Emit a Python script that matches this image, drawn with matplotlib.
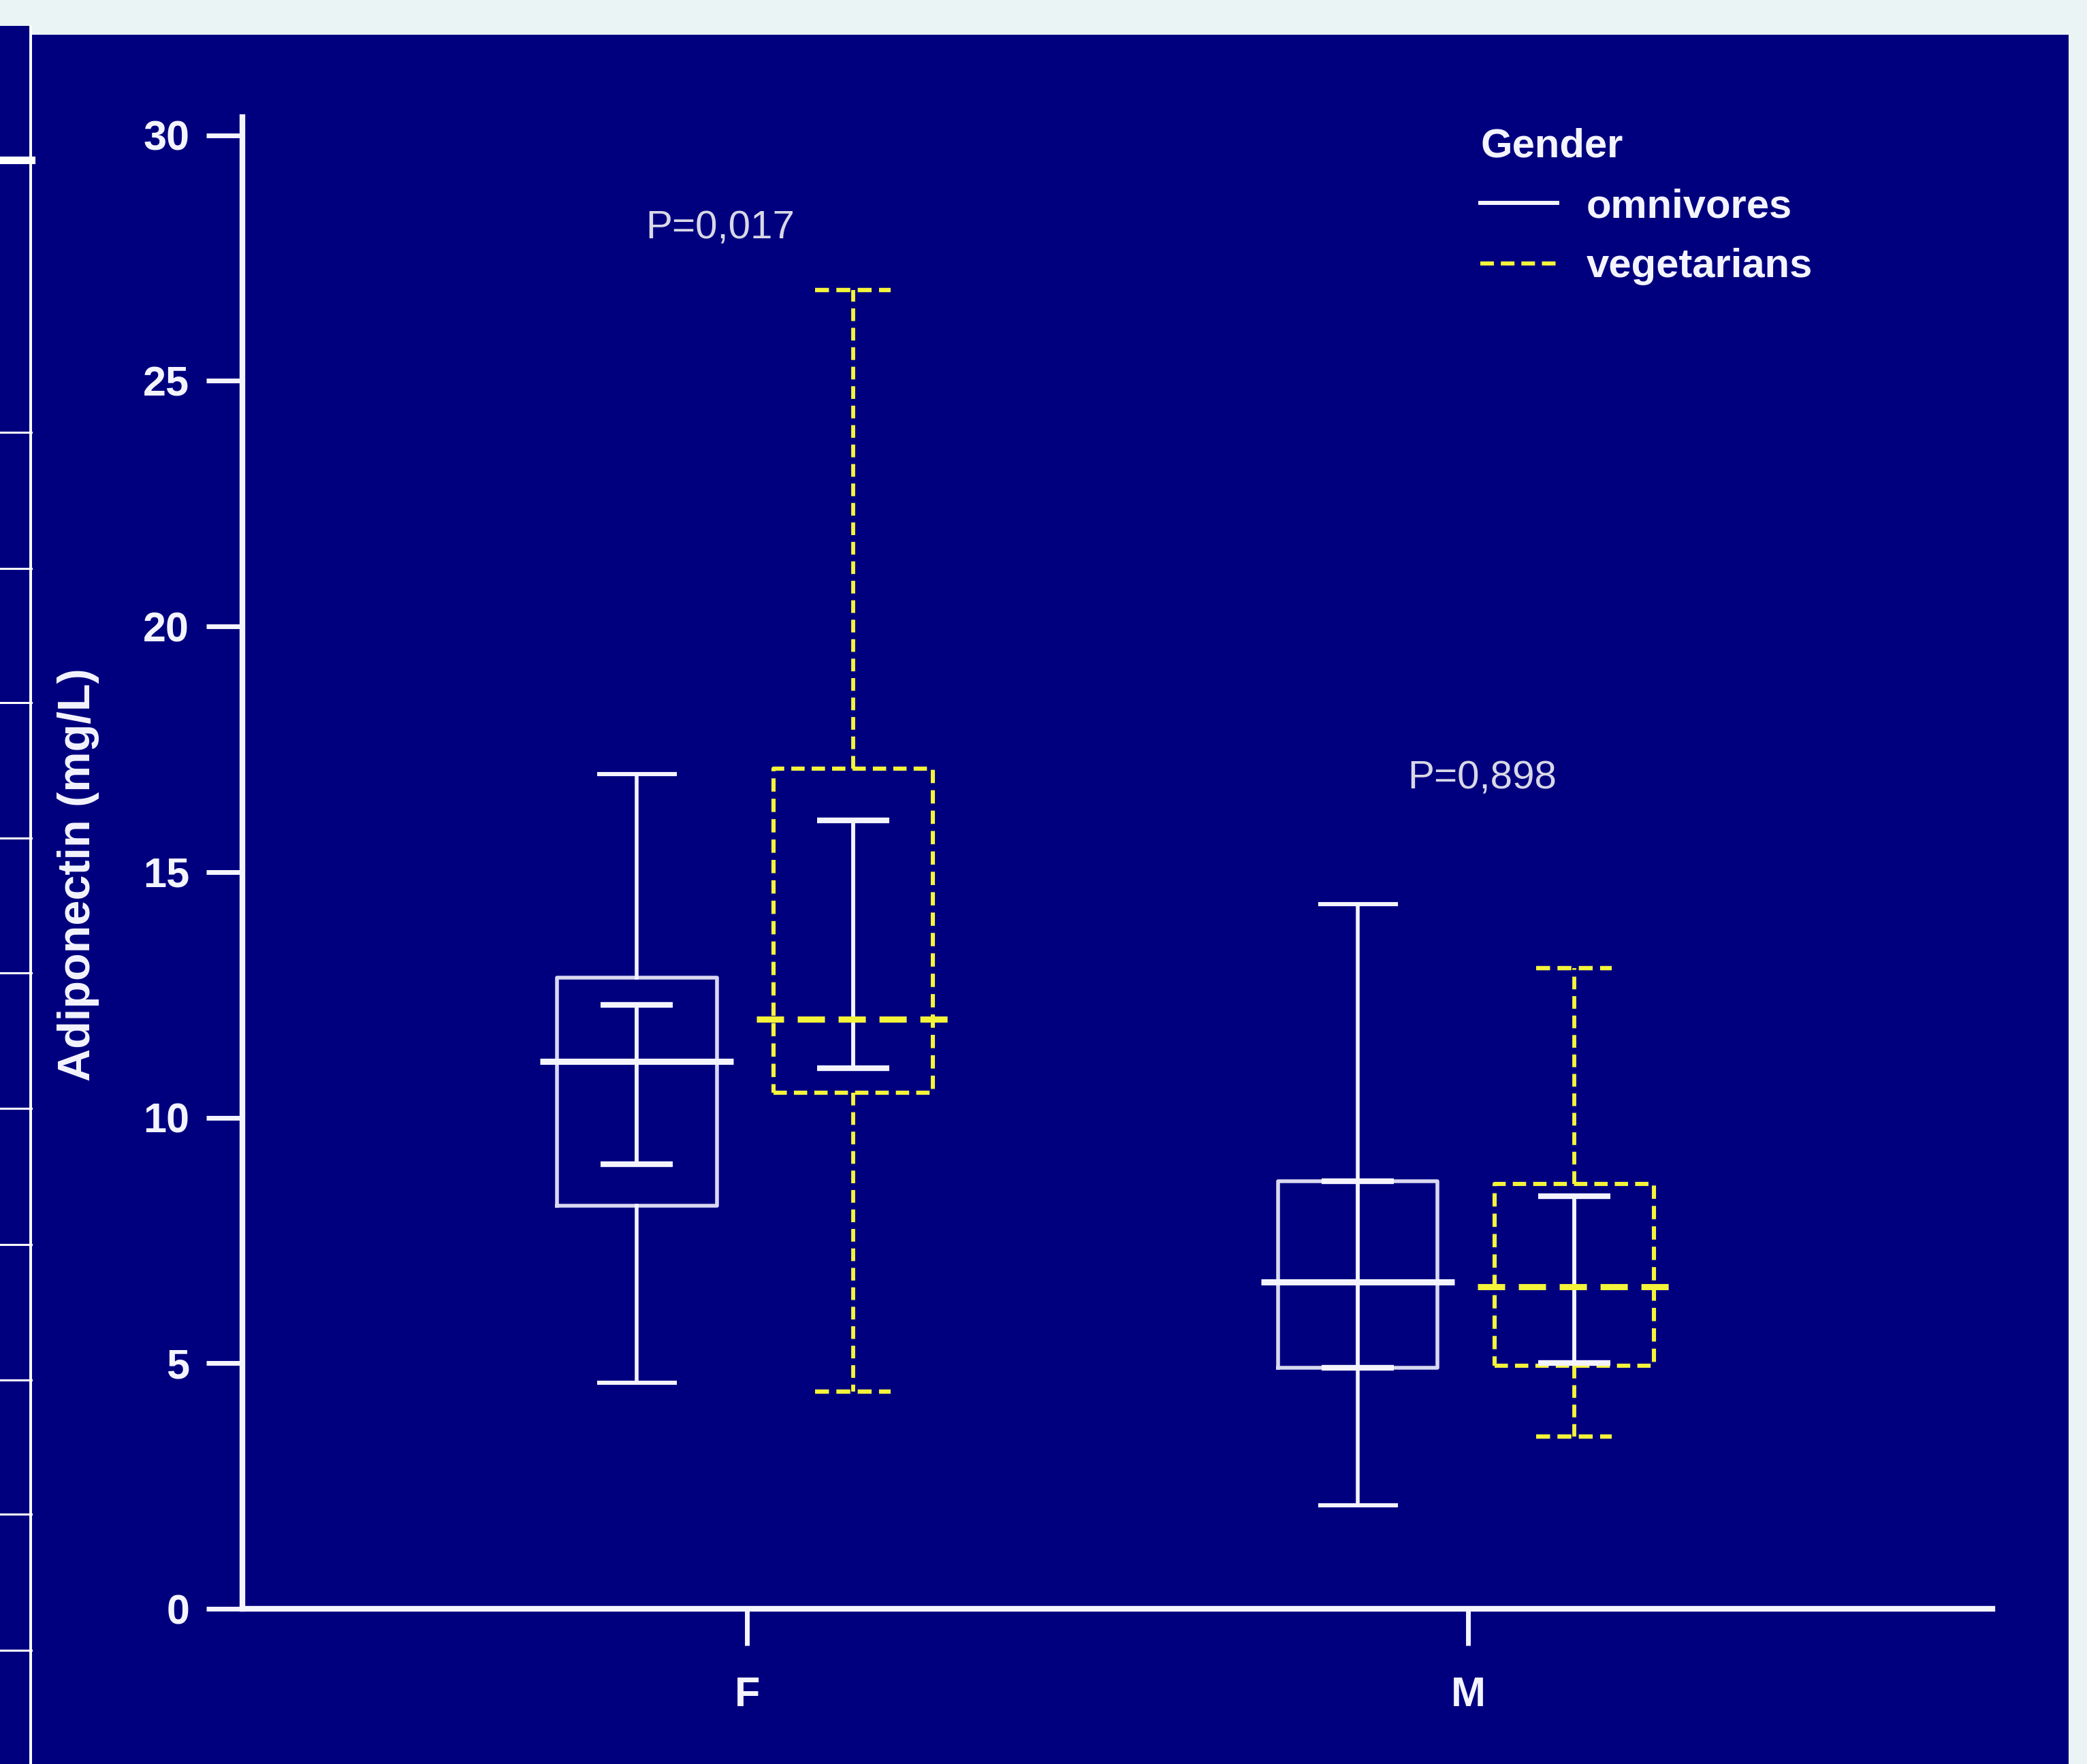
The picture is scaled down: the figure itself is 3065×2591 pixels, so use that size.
import matplotlib
matplotlib.use("Agg")
import matplotlib.pyplot as plt
from matplotlib.lines import Line2D
from matplotlib.patches import Rectangle

# ---------------- data ----------------
groups = ["F", "M"]
group_pos = [1, 2]

# omnivores (solid white)
omni_whislo = [4.6, 2.1]
omni_q1 = [8.2, 4.9]
omni_med = [11.15, 6.65]
omni_q3 = [12.85, 8.7]
omni_whishi = [17.0, 14.35]
omni_inner_lo = [9.05, 4.9]
omni_inner_hi = [12.3, 8.7]

# vegetarians (dashed yellow)
veg_whislo = [4.42, 3.5]
veg_q1 = [10.5, 4.95]
veg_med = [12.0, 6.55]
veg_q3 = [17.1, 8.65]
veg_whishi = [26.85, 13.05]
veg_inner_lo = [11.0, 5.0]
veg_inner_hi = [16.05, 8.4]

p_labels = ["P=0,017", "P=0,898"]
p_x = [0.963, 2.019]
p_y = [28.1, 16.9]

yticks = [0, 5, 10, 15, 20, 25, 30]
ylabel = "Adiponectin (mg/L)"
legend_title = "Gender"
legend_labels = ["omnivores", "vegetarians"]

# ---------------- style ----------------
W, H = 3065, 2591
DPI = 100
NAVY = "#00007f"
LIGHT = "#eaf4f5"
WHITE = "#f4f4ff"
BOXWHITE = "#d8d8f0"
YELLOW = "#f4f43a"
PTXT = "#d8d8e6"
FONT = "Liberation Sans"

plt.rcParams["font.family"] = [FONT, "DejaVu Sans"]

fig = plt.figure(figsize=(W / DPI, H / DPI), dpi=DPI, facecolor=LIGHT)

# navy panels behind the chart
fig.patches.append(Rectangle((0, 0), 43 / W, (H - 38) / H, transform=fig.transFigure,
                             facecolor=NAVY, edgecolor="none", zorder=0))
fig.patches.append(Rectangle((46 / W, 0), (3038 - 46) / W, (H - 51) / H, transform=fig.transFigure,
                             facecolor=NAVY, edgecolor="none", zorder=0))
fig.lines.append(Line2D([44.5 / W, 44.5 / W], [0, (H - 38) / H], transform=fig.transFigure,
                        color="white", lw=2.2, zorder=1))
for yy in [235, 635, 835, 1032, 1231, 1429, 1628, 1828, 2027, 2224, 2424]:
    fig.lines.append(Line2D([0, 46 / W], [1 - yy / H, 1 - yy / H], transform=fig.transFigure,
                            color="white", lw=(8 if yy == 235 else 2.2), zorder=1))

left, right = 356 / W, 2926 / W
bottom, top = 1 - 2363 / H, 1 - 172 / H
ax = fig.add_axes([left, bottom, right - left, top - bottom])
ax.set_zorder(5)
ax.set_facecolor("none")
ax.set_xlim(0.300, 2.727)
ax.set_ylim(0, 30.37)

off_o, off_v = -0.153, 0.147
box_w = 0.2215
cap_w = 0.105
med_half = 0.134

pos_o = [p + off_o for p in group_pos]
pos_v = [p + off_v for p in group_pos]

stats_o = [dict(whislo=a, q1=b, med=c, q3=d, whishi=e, fliers=[])
           for a, b, c, d, e in zip(omni_whislo, omni_q1, omni_med, omni_q3, omni_whishi)]
stats_v = [dict(whislo=a, q1=b, med=c, q3=d, whishi=e, fliers=[])
           for a, b, c, d, e in zip(veg_whislo, veg_q1, veg_med, veg_q3, veg_whishi)]

ax.bxp(stats_o, positions=pos_o, widths=box_w, capwidths=cap_w, showfliers=False,
       boxprops=dict(color=BOXWHITE, lw=4.0),
       whiskerprops=dict(color=WHITE, lw=4.0),
       capprops=dict(color=WHITE, lw=4.4),
       medianprops=dict(lw=0))
dash = (0, (3.2, 1.7))
ax.bxp(stats_v, positions=pos_v, widths=box_w, capwidths=cap_w, showfliers=False,
       boxprops=dict(color=YELLOW, lw=4.4, linestyle=dash),
       whiskerprops=dict(color=YELLOW, lw=4.2, linestyle=dash),
       capprops=dict(color=YELLOW, lw=4.6, linestyle=dash),
       medianprops=dict(lw=0))

# inner white error bars
for pos, lo, hi in [(pos_o, omni_inner_lo, omni_inner_hi), (pos_v, veg_inner_lo, veg_inner_hi)]:
    for x, a, b in zip(pos, lo, hi):
        ax.errorbar([x], [(a + b) / 2], yerr=[[(a + b) / 2 - a], [b - (a + b) / 2]],
                    fmt="none", ecolor=WHITE, elinewidth=4.2, capsize=38, capthick=6.0, zorder=3)

# medians
ax.hlines(omni_med, [p - med_half for p in pos_o], [p + med_half for p in pos_o],
          colors=WHITE, lw=6.5, zorder=4)
ax.hlines(veg_med, [p - med_half for p in pos_v], [p + med_half for p in pos_v],
          colors=YELLOW, lw=6.5, linestyles=[(0, (4.43, 2.22))], zorder=4)

# p-values
for x, y, t in zip(p_x, p_y, p_labels):
    ax.text(x, y, t, ha="center", va="center", color=PTXT, fontsize=42, fontfamily=FONT)

# axes styling
for s in ["top", "right"]:
    ax.spines[s].set_visible(False)
for s in ["left", "bottom"]:
    ax.spines[s].set_color(WHITE)
    ax.spines[s].set_linewidth(6.0)
ax.set_yticks(yticks)
ax.set_xticks(group_pos, groups)
ax.tick_params(axis="y", length=38, width=5.0, color=WHITE, pad=18,
               labelcolor=WHITE, labelsize=44)
ax.tick_params(axis="x", length=39, width=5.0, color=WHITE, pad=32,
               labelcolor=WHITE, labelsize=44)
for lab in ax.get_xticklabels() + ax.get_yticklabels():
    lab.set_fontweight("bold")

ax.set_ylabel(ylabel, color=WHITE, fontsize=48, fontweight="bold", va="center")
ax.yaxis.set_label_coords(-0.0937, 0.492)

# legend
handles = [Line2D([], [], color=WHITE, lw=4.3),
           Line2D([], [], color=YELLOW, lw=4.3, linestyle=(0, (3.35, 1.7)))]
leg = ax.legend(handles, legend_labels, title=legend_title, loc="upper left",
                bbox_to_anchor=(0.7074, 0.9929), frameon=False, borderpad=0,
                handlelength=1.9, handletextpad=0.7, labelspacing=0.56,
                prop=dict(family=FONT, weight="bold", size=43),
                title_fontproperties=dict(family=FONT, weight="bold", size=43),
                alignment="left", borderaxespad=0)
for t in leg.get_texts():
    t.set_color(WHITE)
leg.get_title().set_color(WHITE)

fig.savefig("out.png", dpi=DPI, facecolor=LIGHT)
